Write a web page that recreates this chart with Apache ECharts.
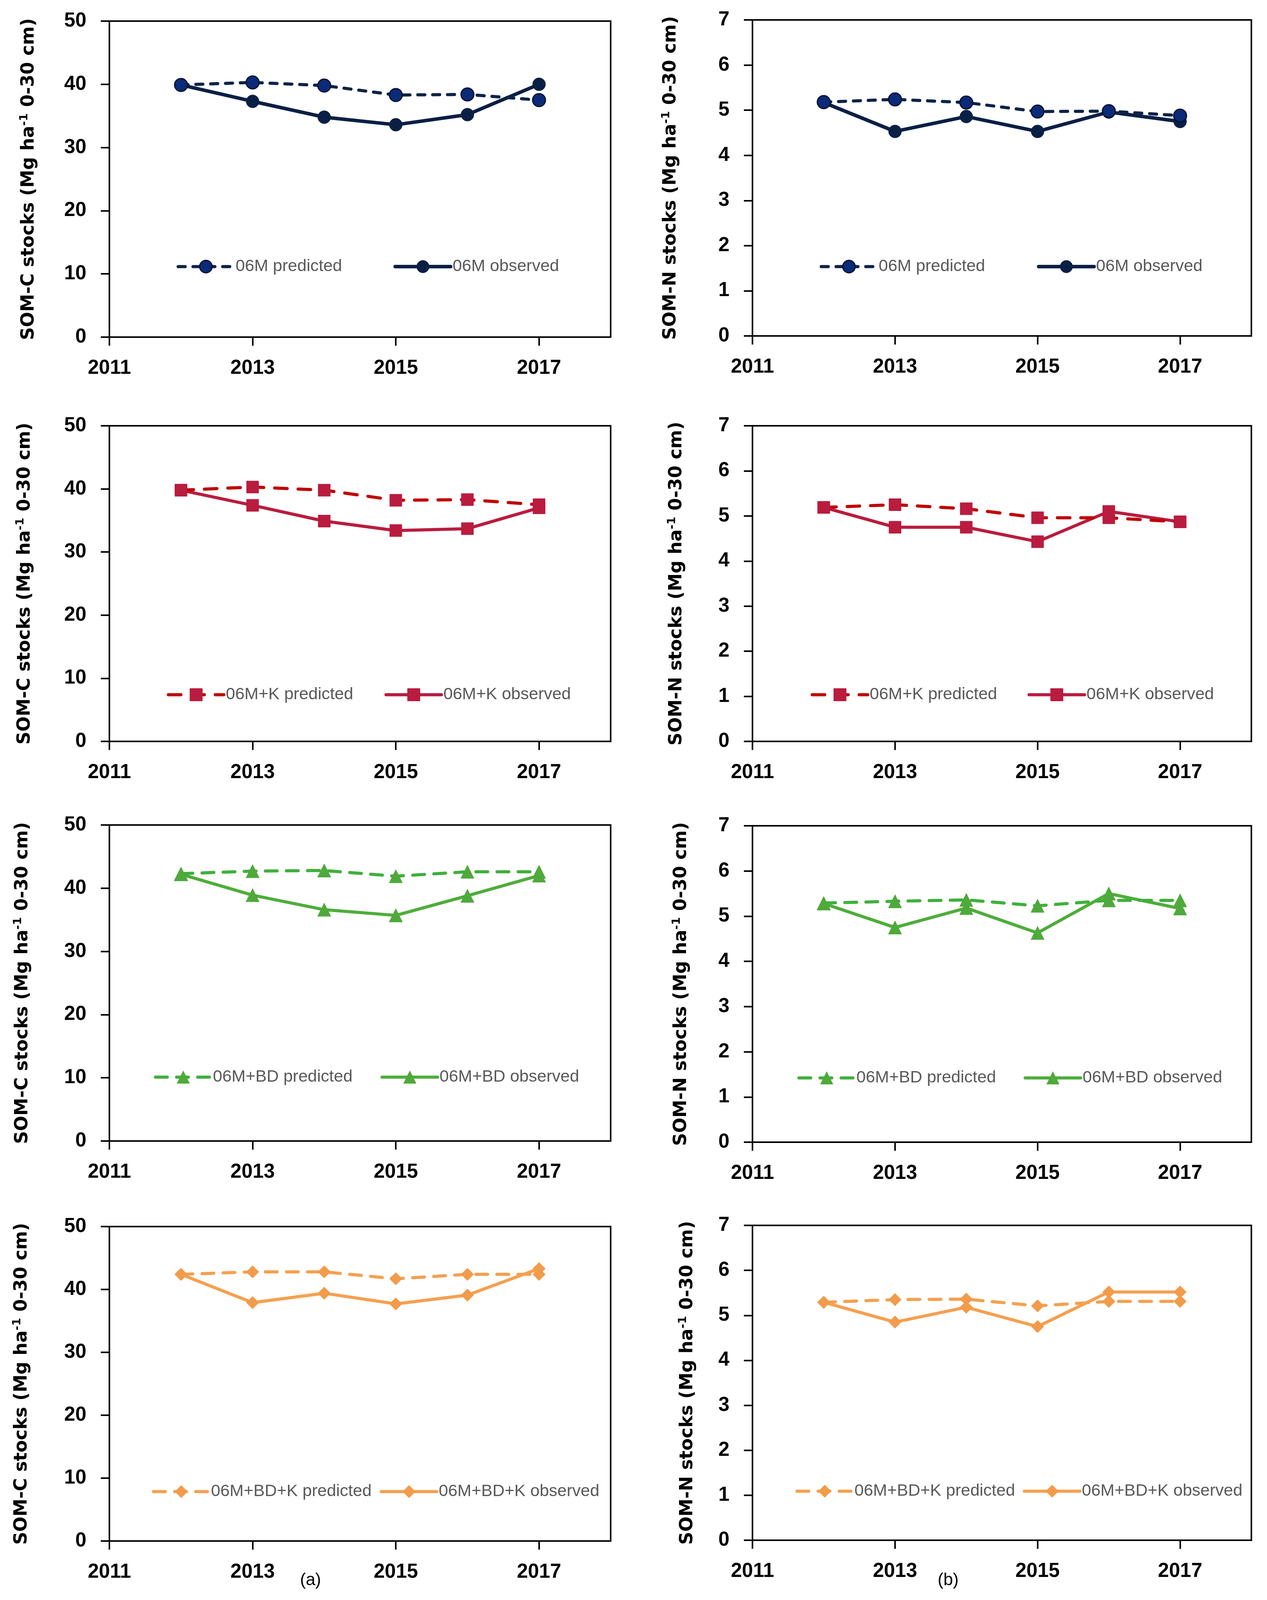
<!DOCTYPE html>
<html><head><meta charset="utf-8">
<script src="https://cdn.jsdelivr.net/npm/echarts@6/dist/echarts.min.js"></script>
<style>html,body{margin:0;padding:0;background:#fff}#c{width:3243px;height:4117px}</style>
</head><body><div id="c"></div>
<script>
// ---------- DATA ----------
const years = [2012, 2013, 2014, 2015, 2016, 2017];
const xTickLabels = [2011, 2013, 2015, 2017];
const cTickLabels = [0, 10, 20, 30, 40, 50];
const nTickLabels = [0, 1, 2, 3, 4, 5, 6, 7];

const c_06M_pred = [39.9, 40.3, 39.8, 38.3, 38.4, 37.5];
const c_06M_obs  = [39.9, 37.3, 34.8, 33.6, 35.2, 40.0];
const n_06M_pred = [5.18, 5.24, 5.17, 4.97, 4.98, 4.88];
const n_06M_obs  = [5.17, 4.53, 4.86, 4.53, 4.96, 4.75];

const c_06MK_pred = [39.8, 40.3, 39.8, 38.2, 38.3, 37.5];
const c_06MK_obs  = [39.8, 37.4, 34.9, 33.4, 33.7, 37.0];
const n_06MK_pred = [5.19, 5.25, 5.16, 4.96, 4.96, 4.87];
const n_06MK_obs  = [5.19, 4.75, 4.75, 4.43, 5.10, 4.87];

const c_06MBD_pred = [42.3, 42.7, 42.8, 41.9, 42.6, 42.6];
const c_06MBD_obs  = [42.2, 38.9, 36.6, 35.7, 38.8, 42.0];
const n_06MBD_pred = [5.29, 5.33, 5.36, 5.23, 5.35, 5.35];
const n_06MBD_obs  = [5.28, 4.75, 5.18, 4.63, 5.50, 5.17];

const c_06MBDK_pred = [42.4, 42.8, 42.8, 41.7, 42.4, 42.4];
const c_06MBDK_obs  = [42.4, 37.9, 39.4, 37.7, 39.1, 43.3];
const n_06MBDK_pred = [5.29, 5.35, 5.36, 5.21, 5.31, 5.31];
const n_06MBDK_obs  = [5.29, 4.85, 5.18, 4.75, 5.52, 5.52];

const treatments = ['06M', '06M+K', '06M+BD', '06M+BD+K'];
const cPred = [c_06M_pred, c_06MK_pred, c_06MBD_pred, c_06MBDK_pred];
const cObs  = [c_06M_obs,  c_06MK_obs,  c_06MBD_obs,  c_06MBDK_obs];
const nPred = [n_06M_pred, n_06MK_pred, n_06MBD_pred, n_06MBDK_pred];
const nObs  = [n_06M_obs,  n_06MK_obs,  n_06MBD_obs,  n_06MBDK_obs];

// ---------- LAYOUT / STYLE ----------
const rowsL = [{t:54,h:809},{t:1090,h:808},{t:2112,h:809},{t:3140,h:805}];
const rowsR = [{t:51,h:809},{t:1090,h:808},{t:2114,h:810},{t:3137,h:806}];
const colL = {l:280, w:1283};
const colR = {l:1926, w:1277};
const nameGapL = [180, 190, 196, 198];
const nameGapR = [183, 168, 156, 140];
const legendY = {L:[683,1779,2758,3819], R:[683,1779,2760,3818]};
const legend1X = {L:[452,427,394,389], R:[2098,2075,2041,2036]};
const legend2X = {L:[1007,984,974,972], R:[2654,2630,2620,2618]};

const styles = [
  { // 06M
    pred:{line:{color:'#0d2346',width:8,type:[18,20],cap:'round'}, symbol:'circle', size:33, item:{color:'#0b2a78',borderColor:'#06122b',borderWidth:3}},
    obs:{line:{color:'#0a1f44',width:9,type:'solid',cap:'round'}, symbol:'circle', size:33, item:{color:'#0a1f44',borderColor:'#0a1f44',borderWidth:1}}
  },
  { // 06M+K
    pred:{line:{color:'#c00000',width:8,type:[32,28],cap:'round'}, symbol:'rect', size:31, item:{color:'#b91c3f',borderColor:'#b91c3f',borderWidth:1}},
    obs:{line:{color:'#b91c3f',width:8,type:'solid',cap:'round'}, symbol:'rect', size:31, item:{color:'#b91c3f',borderColor:'#b91c3f',borderWidth:1}}
  },
  { // 06M+BD
    pred:{line:{color:'#3fb03c',width:8,type:[30,24],cap:'round'}, symbol:'triangle', size:34, item:{color:'#4fa93b',borderColor:'#4fa93b',borderWidth:1}},
    obs:{line:{color:'#4ead3b',width:8,type:'solid',cap:'round'}, symbol:'triangle', size:34, item:{color:'#4fa93b',borderColor:'#4fa93b',borderWidth:1}}
  },
  { // 06M+BD+K
    pred:{line:{color:'#f5a04f',width:8,type:[30,24],cap:'round'}, symbol:'diamond', size:32, item:{color:'#f29b4a',borderColor:'#f29b4a',borderWidth:1}},
    obs:{line:{color:'#f5a04f',width:8,type:'solid',cap:'round'}, symbol:'diamond', size:32, item:{color:'#f29b4a',borderColor:'#f29b4a',borderWidth:1}}
  }
];

const tickFont = {fontFamily:'Liberation Sans', fontWeight:'bold', fontSize:51, color:'#000'};
const nameFont = {fontFamily:'DejaVu Sans', fontWeight:'bold', fontSize:46, color:'#000', lineHeight:52,
  rich:{sup:{fontFamily:'DejaVu Sans', fontWeight:'bold', fontSize:29, lineHeight:52, verticalAlign:'top', color:'#000', padding:[0,0,14,0]}}};
const legendFont = {fontFamily:'Liberation Sans', fontSize:43, color:'#595959'};

const grid = [], xAxis = [], yAxis = [], series = [], legend = [];

function addPanel(idx, row, side, pred, obs, ticks, label) {
  const rows = side === 'L' ? rowsL : rowsR;
  const col = side === 'L' ? colL : colR;
  grid.push({left:col.l, top:rows[row].t, width:col.w, height:rows[row].h,
    show:true, borderColor:'#000', borderWidth:4, backgroundColor:'transparent',
    containLabel:false, outerBoundsMode:'none'});
  xAxis.push({type:'value', gridIndex:idx, min:xTickLabels[0], max:years[years.length-1]+1, interval:2,
    axisLine:{show:true, onZero:false, lineStyle:{color:'#000', width:4}},
    axisTick:{show:true, inside:false, length:22, lineStyle:{color:'#000', width:4}, customValues:xTickLabels},
    axisLabel:{show:true, margin:54, customValues:xTickLabels, formatter:(v)=>String(v), ...tickFont},
    splitLine:{show:false}});
  yAxis.push({type:'value', gridIndex:idx, min:ticks[0], max:ticks[ticks.length-1], interval:ticks[1]-ticks[0],
    name:label, nameLocation:'middle', nameGap:(side==='L'?nameGapL:nameGapR)[row], nameMoveOverlap:false,
    nameTextStyle:nameFont,
    axisLine:{show:true, onZero:false, lineStyle:{color:'#000', width:4}},
    axisTick:{show:true, inside:false, length:22, lineStyle:{color:'#000', width:4}},
    axisLabel:{show:true, margin:59, formatter:(v)=>String(v), ...tickFont},
    splitLine:{show:false}});
  const st = styles[row];
  const tName = treatments[row];
  const mk = (nm, vals, s) => ({
    type:'line', name:nm, xAxisIndex:idx, yAxisIndex:idx,
    data: years.map((y,i)=>[y, vals[i]]),
    symbol:s.symbol, symbolSize:s.size, showSymbol:true,
    lineStyle:s.line, itemStyle:s.item, emphasis:{disabled:true}, animation:false, z:3
  });
  series.push(mk(tName + ' observed', obs, st.obs));
  series.push(mk(tName + ' predicted', pred, st.pred));
  const yc = legendY[side][row];
  const mkLeg = (nm, x, s) => ({
    data:[{name:nm}], left:x, top:yc-22, orient:'horizontal', padding:0, itemGap:0,
    itemWidth:142, itemHeight:40, textStyle:legendFont, selectedMode:false,
    lineStyle:{color:s.line.color, width:s.line.width, type:s.line.type, cap:s.line.cap, inactiveWidth:s.line.width},
    itemStyle:{color:s.item.color, borderColor:s.item.borderColor, borderWidth:s.item.borderWidth}
  });
  legend.push(mkLeg(tName + ' predicted', legend1X[side][row], st.pred));
  legend.push(mkLeg(tName + ' observed', legend2X[side][row], st.obs));
}

let k = 0;
for (let r = 0; r < 4; r++) {
  addPanel(k++, r, 'L', cPred[r], cObs[r], cTickLabels, 'SOM-C stocks (Mg ha{sup|-1} 0-30 cm)');
  addPanel(k++, r, 'R', nPred[r], nObs[r], nTickLabels, 'SOM-N stocks (Mg ha{sup|-1} 0-30 cm)');
}

const chart = echarts.init(document.getElementById('c'), null, {renderer:'canvas'});
chart.setOption({
  backgroundColor:'#fff',
  animation:false,
  grid, xAxis, yAxis, series, legend,
  graphic:[
    {type:'text', left:768, top:4024, style:{text:'(a)', fontFamily:'Liberation Sans', fontSize:44, fill:'#000'}},
    {type:'text', left:2400, top:4024, style:{text:'(b)', fontFamily:'Liberation Sans', fontSize:44, fill:'#000'}}
  ]
});
</script></body></html>
